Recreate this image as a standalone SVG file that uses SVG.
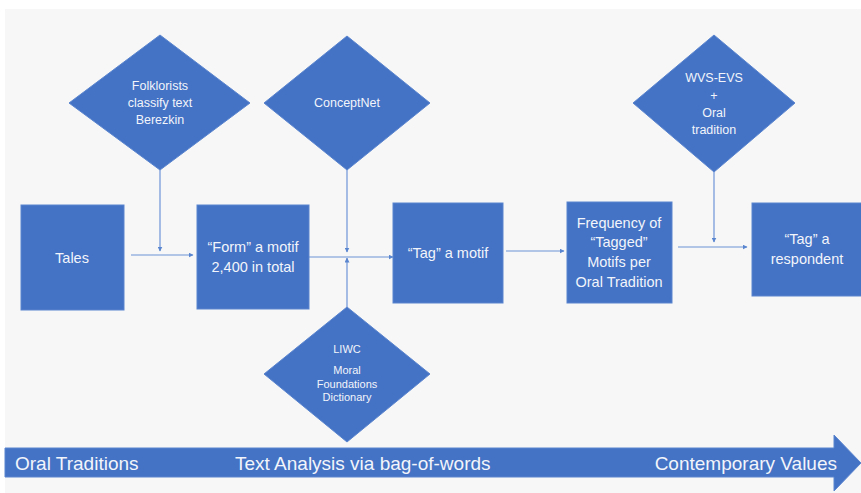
<svg xmlns="http://www.w3.org/2000/svg" width="861" height="493" viewBox="0 0 861 493">
  <style>
    .shape { fill: #4472c4; stroke: #5a85cf; stroke-width: 1; }
    .lbl { font-family: "Liberation Sans", Arial, sans-serif; fill: #f2f5fb; text-anchor: middle; }
    .box { font-size: 14.5px; }
    .dia { font-size: 12.5px; }
    .small { font-size: 11px; }
    .band { font-family: "Liberation Sans", Arial, sans-serif; fill: #f2f5fb; font-size: 19px; }
    .conn { stroke: #6d95d8; stroke-width: 1.2; fill: none; marker-end: url(#head); }
  </style>
  <defs>
    <marker id="head" viewBox="0 0 10 10" refX="9" refY="5" markerWidth="5" markerHeight="5" orient="auto" markerUnits="userSpaceOnUse">
      <path d="M0,0 L10,5 L0,10 z" fill="#5a85cf"/>
    </marker>
  </defs>

  <!-- canvas -->
  <rect x="0" y="0" width="861" height="493" fill="#ffffff"/>
  <rect x="5" y="9" width="856" height="484" fill="#f7f7f7"/>

  <!-- connectors -->
  <g id="connectors">
    <line class="conn" x1="131" y1="255" x2="193" y2="255"/>
    <line class="conn" x1="160" y1="170" x2="160" y2="251"/>
    <line class="conn" x1="309" y1="257" x2="393" y2="257"/>
    <line class="conn" x1="347" y1="170" x2="347" y2="252"/>
    <line class="conn" x1="347" y1="307" x2="347" y2="258"/>
    <line class="conn" x1="506" y1="251" x2="564" y2="251"/>
    <line class="conn" x1="678" y1="247" x2="747" y2="247"/>
    <line class="conn" x1="714" y1="172" x2="714" y2="242"/>
  </g>

  <!-- input diamonds -->
  <g id="folklorists">
    <polygon class="shape" points="160,35 250,103 160,170 69,103"/>
    <text class="lbl dia" x="160" y="90">Folklorists</text>
    <text class="lbl dia" x="160" y="107">classify text</text>
    <text class="lbl dia" x="160" y="124">Berezkin</text>
  </g>
  <g id="conceptnet">
    <polygon class="shape" points="347,36 430,103 347,170 264,103"/>
    <text class="lbl dia" x="347" y="107">ConceptNet</text>
  </g>
  <g id="wvs-evs">
    <polygon class="shape" points="714,35 795,103 714,172 633,103"/>
    <text class="lbl dia" x="714" y="82">WVS-EVS</text>
    <text class="lbl dia" x="714" y="100">+</text>
    <text class="lbl dia" x="714" y="117">Oral</text>
    <text class="lbl dia" x="714" y="134">tradition</text>
  </g>
  <g id="liwc">
    <polygon class="shape" points="347,307 430,374 347,442 264,374"/>
    <text class="lbl small" x="347" y="353">LIWC</text>
    <text class="lbl small" x="347" y="374">Moral</text>
    <text class="lbl small" x="347" y="387.5">Foundations</text>
    <text class="lbl small" x="347" y="401">Dictionary</text>
  </g>

  <!-- process boxes -->
  <g id="tales">
    <rect class="shape" x="21" y="205" width="103" height="105"/>
    <text class="lbl box" x="72" y="263">Tales</text>
  </g>
  <g id="form-motif">
    <rect class="shape" x="197" y="205" width="112" height="104"/>
    <text class="lbl box" x="253" y="252">“Form” a motif</text>
    <text class="lbl box" x="253" y="272">2,400 in total</text>
  </g>
  <g id="tag-motif">
    <rect class="shape" x="393" y="203" width="110" height="100"/>
    <text class="lbl box" x="448" y="258">“Tag” a motif</text>
  </g>
  <g id="frequency">
    <rect class="shape" x="567" y="202" width="105" height="101"/>
    <text class="lbl box" x="619" y="228">Frequency of</text>
    <text class="lbl box" x="619" y="247">“Tagged”</text>
    <text class="lbl box" x="619" y="267">Motifs per</text>
    <text class="lbl box" x="619" y="287">Oral Tradition</text>
  </g>
  <g id="tag-respondent">
    <rect class="shape" x="752" y="203" width="110" height="93"/>
    <text class="lbl box" x="807" y="244">“Tag” a</text>
    <text class="lbl box" x="807" y="264">respondent</text>
  </g>

  <!-- timeline band -->
  <g id="timeline">
    <polygon class="shape" points="5,448 834,448 834,435 861,463 834,491 834,477 5,477"/>
    <text class="band" x="15" y="470">Oral Traditions</text>
    <text class="band" x="235" y="470">Text Analysis via bag-of-words</text>
    <text class="band" x="837" y="470" text-anchor="end">Contemporary Values</text>
  </g>
</svg>
